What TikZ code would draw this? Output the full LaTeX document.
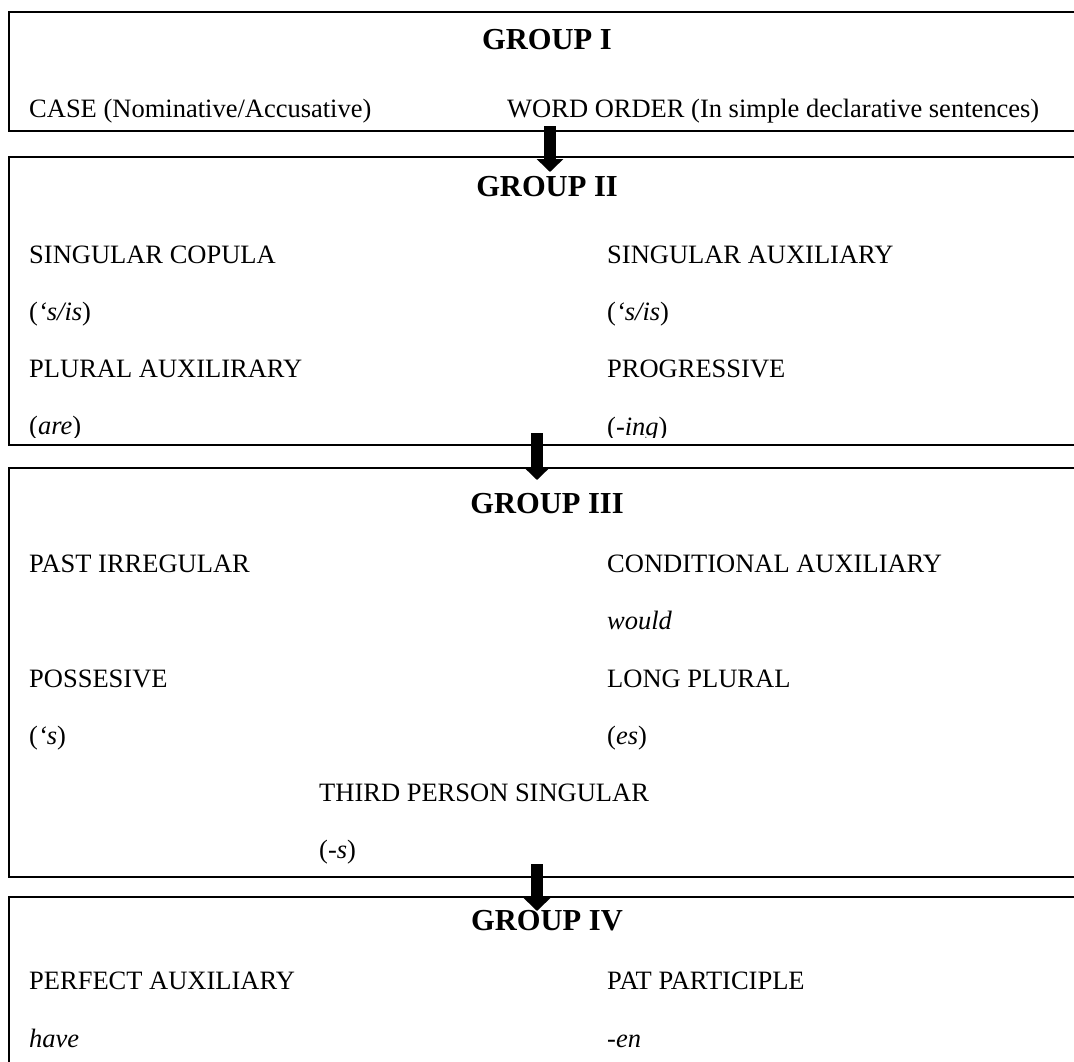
\documentclass[tikz,border=0pt]{standalone}
\usepackage{fontspec}
\setmainfont{Liberation Serif}
\usetikzlibrary{arrows.meta}

\tikzset{
  groupbox/.style={draw, line width=1.8pt},
  grouptitle/.style={anchor=base, inner sep=0pt, font=\fontsize{30.5}{34}\selectfont\bfseries},
  item/.style={anchor=base west, inner sep=0pt, font=\fontsize{26.5}{30}\selectfont},
  flow/.style={line width=12pt, -{Triangle[width=26pt,length=13pt]}},
}

\begin{document}
\begin{tikzpicture}[x=1pt,y=-1pt]
    \useasboundingbox (0,0) rectangle (1074,1061);
    \clip (0,0) rectangle (1074,1061);
    % group boxes
    \draw[groupbox] (9,12) rectangle (1090,131);
    \draw[groupbox] (9,157) rectangle (1090,445);
    \draw[groupbox] (9,468) rectangle (1090,877);
    \draw[groupbox] (9,897) rectangle (1090,1090);
    % group I
    \node[grouptitle] (G1) at (547,49) {GROUP I};
    \node[item] (case) at (29,117) {CASE (Nominative/Accusative)};
    \node[item] (order) at (507,117) {WORD ORDER (In simple declarative sentences)};
    % group II
    \node[grouptitle] (G2) at (547,196) {GROUP II};
    \begin{scope}
        \clip (9,157) rectangle (1090,437);
        \node[item] (copula) at (29,263) {SINGULAR COPULA};
        \node[item] (copulaF) at (29,320) {(\textit{‘s/is})};
        \node[item] (plaux) at (29,377) {PLURAL AUXILIRARY};
        \node[item] (plauxF) at (29,434) {(\textit{are})};
        \node[item] (sgaux) at (607,263) {SINGULAR AUXILIARY};
        \node[item] (sgauxF) at (607,320) {(\textit{‘s/is})};
        \node[item] (prog) at (607,377) {PROGRESSIVE};
        \node[item] (progF) at (607,435) {(\textit{-ing})};
    \end{scope}
    % group III
    \node[grouptitle] (G3) at (547,513) {GROUP III};
    \node[item] (past) at (29,572) {PAST IRREGULAR};
    \node[item] (poss) at (29,687) {POSSESIVE};
    \node[item] (possF) at (29,744) {(\textit{‘s})};
    \node[item] (cond) at (607,572) {CONDITIONAL AUXILIARY};
    \node[item] (condF) at (607,629) {\textit{would}};
    \node[item] (lpl) at (607,687) {LONG PLURAL};
    \node[item] (lplF) at (607,744) {(\textit{es})};
    \node[item] (third) at (319,801) {THIRD PERSON SINGULAR};
    \node[item] (thirdF) at (319,858) {(-\textit{s})};
    % group IV
    \node[grouptitle] (G4) at (547,930) {GROUP IV};
    \node[item] (perf) at (29,989) {PERFECT AUXILIARY};
    \node[item] (perfF) at (29,1047) {\textit{have}};
    \node[item] (part) at (607,989) {PAT PARTICIPLE};
    \node[item] (partF) at (607,1047) {\textit{-en}};
    % arrows between the groups
    \coordinate (a1) at (550,126);
    \coordinate (b1) at (550,172);
    \coordinate (a2) at (537,433);
    \coordinate (b2) at (537,480);
    \coordinate (a3) at (537,864);
    \coordinate (b3) at (537,911);
    \draw[flow] (a1) -- (b1);
    \draw[flow] (a2) -- (b2);
    \draw[flow] (a3) -- (b3);
\end{tikzpicture}
\end{document}
